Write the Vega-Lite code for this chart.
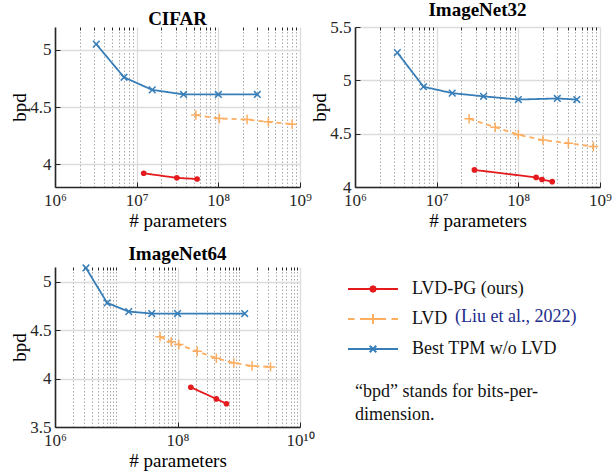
{
  "$schema": "https://vega.github.io/schema/vega-lite/v6.json",
  "padding": {"left": 10, "top": 1, "right": 5, "bottom": 5},
  "data": {"values": [
    {"dataset": "CIFAR", "series": "Best TPM w/o LVD", "params": 3200000, "bpd": 5.05},
    {"dataset": "CIFAR", "series": "Best TPM w/o LVD", "params": 7000000, "bpd": 4.76},
    {"dataset": "CIFAR", "series": "Best TPM w/o LVD", "params": 15500000, "bpd": 4.65},
    {"dataset": "CIFAR", "series": "Best TPM w/o LVD", "params": 37500000, "bpd": 4.61},
    {"dataset": "CIFAR", "series": "Best TPM w/o LVD", "params": 100000000, "bpd": 4.61},
    {"dataset": "CIFAR", "series": "Best TPM w/o LVD", "params": 300000000, "bpd": 4.61},
    {"dataset": "CIFAR", "series": "LVD", "params": 53000000, "bpd": 4.43},
    {"dataset": "CIFAR", "series": "LVD", "params": 103000000, "bpd": 4.40},
    {"dataset": "CIFAR", "series": "LVD", "params": 225000000, "bpd": 4.39},
    {"dataset": "CIFAR", "series": "LVD", "params": 410000000, "bpd": 4.37},
    {"dataset": "CIFAR", "series": "LVD", "params": 800000000, "bpd": 4.35},
    {"dataset": "CIFAR", "series": "LVD-PG (ours)", "params": 12200000, "bpd": 3.92},
    {"dataset": "CIFAR", "series": "LVD-PG (ours)", "params": 31000000, "bpd": 3.88},
    {"dataset": "CIFAR", "series": "LVD-PG (ours)", "params": 55000000, "bpd": 3.87},
    {"dataset": "ImageNet32", "series": "Best TPM w/o LVD", "params": 3300000, "bpd": 5.26},
    {"dataset": "ImageNet32", "series": "Best TPM w/o LVD", "params": 6900000, "bpd": 4.94},
    {"dataset": "ImageNet32", "series": "Best TPM w/o LVD", "params": 15500000, "bpd": 4.88},
    {"dataset": "ImageNet32", "series": "Best TPM w/o LVD", "params": 37500000, "bpd": 4.85},
    {"dataset": "ImageNet32", "series": "Best TPM w/o LVD", "params": 100000000, "bpd": 4.82},
    {"dataset": "ImageNet32", "series": "Best TPM w/o LVD", "params": 300000000, "bpd": 4.83},
    {"dataset": "ImageNet32", "series": "Best TPM w/o LVD", "params": 520000000, "bpd": 4.82},
    {"dataset": "ImageNet32", "series": "LVD", "params": 25000000, "bpd": 4.64},
    {"dataset": "ImageNet32", "series": "LVD", "params": 52000000, "bpd": 4.56},
    {"dataset": "ImageNet32", "series": "LVD", "params": 100000000, "bpd": 4.49},
    {"dataset": "ImageNet32", "series": "LVD", "params": 200000000, "bpd": 4.44},
    {"dataset": "ImageNet32", "series": "LVD", "params": 410000000, "bpd": 4.41},
    {"dataset": "ImageNet32", "series": "LVD", "params": 830000000, "bpd": 4.38},
    {"dataset": "ImageNet32", "series": "LVD-PG (ours)", "params": 29000000, "bpd": 4.16},
    {"dataset": "ImageNet32", "series": "LVD-PG (ours)", "params": 165000000, "bpd": 4.09},
    {"dataset": "ImageNet32", "series": "LVD-PG (ours)", "params": 195000000, "bpd": 4.07},
    {"dataset": "ImageNet32", "series": "LVD-PG (ours)", "params": 260000000, "bpd": 4.05},
    {"dataset": "ImageNet64", "series": "Best TPM w/o LVD", "params": 3200000, "bpd": 5.14},
    {"dataset": "ImageNet64", "series": "Best TPM w/o LVD", "params": 7100000, "bpd": 4.78},
    {"dataset": "ImageNet64", "series": "Best TPM w/o LVD", "params": 16000000, "bpd": 4.69},
    {"dataset": "ImageNet64", "series": "Best TPM w/o LVD", "params": 38000000, "bpd": 4.67},
    {"dataset": "ImageNet64", "series": "Best TPM w/o LVD", "params": 100000000, "bpd": 4.67},
    {"dataset": "ImageNet64", "series": "Best TPM w/o LVD", "params": 1250000000, "bpd": 4.67},
    {"dataset": "ImageNet64", "series": "LVD", "params": 52000000, "bpd": 4.43},
    {"dataset": "ImageNet64", "series": "LVD", "params": 79000000, "bpd": 4.38},
    {"dataset": "ImageNet64", "series": "LVD", "params": 105000000, "bpd": 4.35},
    {"dataset": "ImageNet64", "series": "LVD", "params": 210000000, "bpd": 4.28},
    {"dataset": "ImageNet64", "series": "LVD", "params": 430000000, "bpd": 4.21},
    {"dataset": "ImageNet64", "series": "LVD", "params": 830000000, "bpd": 4.16},
    {"dataset": "ImageNet64", "series": "LVD", "params": 1650000000, "bpd": 4.13},
    {"dataset": "ImageNet64", "series": "LVD", "params": 3300000000, "bpd": 4.12},
    {"dataset": "ImageNet64", "series": "LVD-PG (ours)", "params": 165000000, "bpd": 3.91},
    {"dataset": "ImageNet64", "series": "LVD-PG (ours)", "params": 430000000, "bpd": 3.79},
    {"dataset": "ImageNet64", "series": "LVD-PG (ours)", "params": 630000000, "bpd": 3.74}
  ]},
  "config": {
    "view": {"stroke": null},
    "font": "Liberation Serif",
    "axis": {"labelFont": "Liberation Serif", "labelFontSize": 17, "labelColor": "#262626", "titleFont": "Liberation Serif", "titleFontSize": 19, "titleFontWeight": "normal", "titleColor": "#000000", "domainColor": "#262626", "domainWidth": 1.6, "tickColor": "#262626", "tickWidth": 1, "gridColor": "#dcdcdc", "gridWidth": 1.3, "labelFlush": false, "labelOverlap": false, "labelBound": false},
    "title": {"font": "Liberation Serif", "fontSize": 19, "fontWeight": "bold", "color": "#000000", "offset": -2},
    "legend": {"labelFont": "Liberation Serif", "labelFontSize": 18, "labelColor": "#111111"}
  },
  "columns": 2,
  "spacing": {"row": 80, "column": 55},
  "bounds": "flush",
  "concat": [
    {
      "title": "CIFAR",
      "width": 245, "height": 160,
      "transform": [{"filter": "datum.dataset === 'CIFAR'"}],
      "resolve": {"axis": {"x": "independent"}},
      "layer": [
        {
          "mark": {"type": "line", "strokeWidth": 1.8},
          "encoding": {
            "x": {"field": "params", "type": "quantitative", "title": "# parameters",
              "scale": {"type": "log", "domain": [1000000, 1000000000], "nice": false},
              "axis": {"values": [1000000, 10000000, 100000000, 1000000000], "grid": true, "tickSize": -5, "labelPadding": 10, "titlePadding": 3,
                "labelExpr": "datum.value >= 5e9 ? '10¹⁰' : datum.value >= 5e8 ? '10⁹' : datum.value >= 5e7 ? '10⁸' : datum.value >= 5e6 ? '10⁷' : '10⁶'"}},
            "y": {"field": "bpd", "type": "quantitative", "title": "bpd",
              "scale": {"domain": [3.8, 5.2], "nice": false, "zero": false},
              "axis": {"values": [4, 4.5, 5], "format": "~g", "grid": true, "tickSize": -5, "labelPadding": 9, "titlePadding": 0}},
            "color": {"field": "series", "type": "nominal",
              "scale": {"domain": ["LVD-PG (ours)", "LVD", "Best TPM w/o LVD"], "range": ["#e41a1c", "#fdae61", "#377eb8"]},
              "legend": {"title": null, "orient": "none", "legendX": 307, "legendY": 251, "padding": 0, "symbolSize": 400, "symbolStrokeWidth": 2, "symbolFillColor": "#e41a1c", "symbolOpacity": 1, "labelOffset": 28, "rowPadding": 10, "labelFontSize": 18}},
            "strokeDash": {"field": "series", "type": "nominal",
              "scale": {"domain": ["LVD", "LVD-PG (ours)", "Best TPM w/o LVD"], "range": [[5, 4], [1, 0], [1, 0]]},
              "legend": {"title": null, "orient": "none", "legendX": 350, "legendY": 279, "padding": 0, "values": ["LVD"], "labelExpr": "'(Liu et al., 2022)'", "labelColor": "#1c2c8c", "symbolOpacity": 0, "symbolSize": 400, "symbolStrokeWidth": 2, "labelOffset": 28, "labelFontSize": 18}}
          }
        },
        {
          "transform": [{"filter": "datum.series === 'LVD-PG (ours)'"}],
          "mark": {"type": "point", "filled": true, "shape": "circle", "size": 32, "opacity": 1},
          "encoding": {
            "x": {"field": "params", "type": "quantitative", "title": null,
              "axis": {"values": [2000000, 3000000, 4000000, 5000000, 6000000, 7000000, 8000000, 9000000, 20000000, 30000000, 40000000, 50000000, 60000000, 70000000, 80000000, 90000000, 200000000, 300000000, 400000000, 500000000, 600000000, 700000000, 800000000, 900000000], "grid": true, "gridDash": [1.5, 2], "gridColor": "#a9a9a9", "gridWidth": 1, "tickSize": -3, "labels": false, "domain": false}},
            "y": {"field": "bpd", "type": "quantitative"},
            "color": {"field": "series", "type": "nominal", "legend": null}
          }
        },
        {
          "transform": [{"filter": "datum.series === 'LVD'"}],
          "mark": {"type": "point", "filled": false, "size": 90, "strokeWidth": 1.5, "opacity": 1, "shape": "M-1,0H1M0,-1V1"},
          "encoding": {
            "x": {"field": "params", "type": "quantitative", "axis": null},
            "y": {"field": "bpd", "type": "quantitative"},
            "color": {"field": "series", "type": "nominal", "legend": null}
          }
        },
        {
          "transform": [{"filter": "datum.series === 'Best TPM w/o LVD'"}],
          "mark": {"type": "point", "filled": false, "size": 90, "strokeWidth": 1.5, "opacity": 1, "shape": "M-0.7,-0.7L0.7,0.7M-0.7,0.7L0.7,-0.7"},
          "encoding": {
            "x": {"field": "params", "type": "quantitative", "axis": null},
            "y": {"field": "bpd", "type": "quantitative"},
            "color": {"field": "series", "type": "nominal", "legend": null}
          }
        }
      ]
    },
    {
      "title": "ImageNet32",
      "width": 245, "height": 160,
      "transform": [{"filter": "datum.dataset === 'ImageNet32'"}],
      "resolve": {"axis": {"x": "independent"}},
      "layer": [
        {
          "mark": {"type": "line", "strokeWidth": 1.8},
          "encoding": {
            "x": {"field": "params", "type": "quantitative", "title": "# parameters",
              "scale": {"type": "log", "domain": [1000000, 1000000000], "nice": false},
              "axis": {"values": [1000000, 10000000, 100000000, 1000000000], "grid": true, "tickSize": -5, "labelPadding": 10, "titlePadding": 3,
                "labelExpr": "datum.value >= 5e9 ? '10¹⁰' : datum.value >= 5e8 ? '10⁹' : datum.value >= 5e7 ? '10⁸' : datum.value >= 5e6 ? '10⁷' : '10⁶'"}},
            "y": {"field": "bpd", "type": "quantitative", "title": "bpd",
              "scale": {"domain": [4, 5.5], "nice": false, "zero": false},
              "axis": {"values": [4, 4.5, 5, 5.5], "format": "~g", "grid": true, "tickSize": -5, "labelPadding": 9, "titlePadding": 0}},
            "color": {"field": "series", "type": "nominal"},
            "strokeDash": {"field": "series", "type": "nominal"}
          }
        },
        {
          "transform": [{"filter": "datum.series === 'LVD-PG (ours)'"}],
          "mark": {"type": "point", "filled": true, "shape": "circle", "size": 32, "opacity": 1},
          "encoding": {
            "x": {"field": "params", "type": "quantitative", "title": null,
              "axis": {"values": [2000000, 3000000, 4000000, 5000000, 6000000, 7000000, 8000000, 9000000, 20000000, 30000000, 40000000, 50000000, 60000000, 70000000, 80000000, 90000000, 200000000, 300000000, 400000000, 500000000, 600000000, 700000000, 800000000, 900000000], "grid": true, "gridDash": [1.5, 2], "gridColor": "#a9a9a9", "gridWidth": 1, "tickSize": -3, "labels": false, "domain": false}},
            "y": {"field": "bpd", "type": "quantitative"},
            "color": {"field": "series", "type": "nominal", "legend": null}
          }
        },
        {
          "transform": [{"filter": "datum.series === 'LVD'"}],
          "mark": {"type": "point", "filled": false, "size": 90, "strokeWidth": 1.5, "opacity": 1, "shape": "M-1,0H1M0,-1V1"},
          "encoding": {
            "x": {"field": "params", "type": "quantitative", "axis": null},
            "y": {"field": "bpd", "type": "quantitative"},
            "color": {"field": "series", "type": "nominal", "legend": null}
          }
        },
        {
          "transform": [{"filter": "datum.series === 'Best TPM w/o LVD'"}],
          "mark": {"type": "point", "filled": false, "size": 90, "strokeWidth": 1.5, "opacity": 1, "shape": "M-0.7,-0.7L0.7,0.7M-0.7,0.7L0.7,-0.7"},
          "encoding": {
            "x": {"field": "params", "type": "quantitative", "axis": null},
            "y": {"field": "bpd", "type": "quantitative"},
            "color": {"field": "series", "type": "nominal", "legend": null}
          }
        }
      ]
    },
    {
      "title": "ImageNet64",
      "width": 245, "height": 160,
      "transform": [{"filter": "datum.dataset === 'ImageNet64'"}],
      "resolve": {"axis": {"x": "independent"}},
      "layer": [
        {
          "mark": {"type": "line", "strokeWidth": 1.8},
          "encoding": {
            "x": {"field": "params", "type": "quantitative", "title": "# parameters",
              "scale": {"type": "log", "domain": [1000000, 10000000000], "nice": false},
              "axis": {"values": [1000000, 100000000, 10000000000], "grid": true, "tickSize": -5, "labelPadding": 10, "titlePadding": 3,
                "labelExpr": "datum.value >= 5e9 ? '10¹⁰' : datum.value >= 5e8 ? '10⁹' : datum.value >= 5e7 ? '10⁸' : datum.value >= 5e6 ? '10⁷' : '10⁶'"}},
            "y": {"field": "bpd", "type": "quantitative", "title": "bpd",
              "scale": {"domain": [3.5, 5.15], "nice": false, "zero": false},
              "axis": {"values": [3.5, 4, 4.5, 5], "format": "~g", "grid": true, "tickSize": -5, "labelPadding": 9, "titlePadding": 0}},
            "color": {"field": "series", "type": "nominal"},
            "strokeDash": {"field": "series", "type": "nominal"}
          }
        },
        {
          "transform": [{"filter": "datum.series === 'LVD-PG (ours)'"}],
          "mark": {"type": "point", "filled": true, "shape": "circle", "size": 32, "opacity": 1},
          "encoding": {
            "x": {"field": "params", "type": "quantitative", "title": null,
              "axis": {"values": [2000000, 3000000, 4000000, 5000000, 6000000, 7000000, 8000000, 9000000, 10000000, 20000000, 30000000, 40000000, 50000000, 60000000, 70000000, 80000000, 90000000, 200000000, 300000000, 400000000, 500000000, 600000000, 700000000, 800000000, 900000000, 1000000000, 2000000000, 3000000000, 4000000000, 5000000000, 6000000000, 7000000000, 8000000000, 9000000000], "grid": true, "gridDash": [1.5, 2], "gridColor": "#a9a9a9", "gridWidth": 1, "tickSize": -3, "labels": false, "domain": false}},
            "y": {"field": "bpd", "type": "quantitative"},
            "color": {"field": "series", "type": "nominal", "legend": null}
          }
        },
        {
          "transform": [{"filter": "datum.series === 'LVD'"}],
          "mark": {"type": "point", "filled": false, "size": 90, "strokeWidth": 1.5, "opacity": 1, "shape": "M-1,0H1M0,-1V1"},
          "encoding": {
            "x": {"field": "params", "type": "quantitative", "axis": null},
            "y": {"field": "bpd", "type": "quantitative"},
            "color": {"field": "series", "type": "nominal", "legend": null}
          }
        },
        {
          "transform": [{"filter": "datum.series === 'Best TPM w/o LVD'"}],
          "mark": {"type": "point", "filled": false, "size": 90, "strokeWidth": 1.5, "opacity": 1, "shape": "M-0.7,-0.7L0.7,0.7M-0.7,0.7L0.7,-0.7"},
          "encoding": {
            "x": {"field": "params", "type": "quantitative", "axis": null},
            "y": {"field": "bpd", "type": "quantitative"},
            "color": {"field": "series", "type": "nominal", "legend": null}
          }
        }
      ]
    },
    {
      "width": 245, "height": 108,
      "data": {"values": [{"series": "LVD-PG (ours)"}, {"series": "LVD"}, {"series": "Best TPM w/o LVD"}]},
      "mark": {"type": "point", "filled": false, "opacity": 0},
      "encoding": {
        "color": {"field": "series", "type": "nominal",
          "legend": {"title": null, "orient": "none", "legendX": 307, "legendY": 251, "padding": 0, "symbolSize": 400, "symbolStrokeWidth": 2, "symbolFillColor": "#e41a1c", "symbolOpacity": 1, "labelOffset": 28, "rowPadding": 10, "labelFontSize": 18}},
        "shape": {"field": "series", "type": "nominal",
          "scale": {"domain": ["LVD-PG (ours)", "LVD", "Best TPM w/o LVD"], "range": ["M-2.5,0H2.5M0.27,0L0.19,0.19L0,0.27L-0.19,0.19L-0.27,0L-0.19,-0.19L0,-0.27L0.19,-0.19Z", "M-2.5,0H-1.85M-1.3,0H1.3M1.85,0H2.5M0,-0.5V0.5", "M-2.5,0H2.5M-0.33,-0.33L0.33,0.33M-0.33,0.33L0.33,-0.33"]},
          "legend": {"title": null, "orient": "none", "legendX": 307, "legendY": 251, "padding": 0, "symbolSize": 400, "symbolStrokeWidth": 2, "symbolFillColor": "#e41a1c", "symbolOpacity": 1, "labelOffset": 28, "rowPadding": 10, "labelFontSize": 18}}
      },
      "title": {"text": ["“bpd” stands for bits-per-", "dimension."], "orient": "bottom", "anchor": "start", "align": "left", "fontWeight": "normal", "fontSize": 18, "lineHeight": 23, "offset": 8, "color": "#111111"}
    }
  ]
}
